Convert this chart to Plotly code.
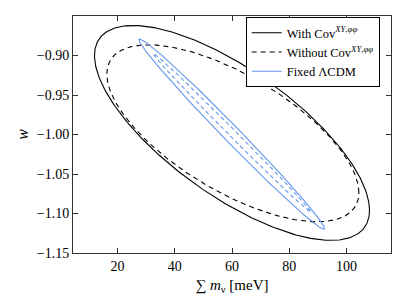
import numpy as np
import plotly.graph_objects as go

# Ellipse parameters: centre (x, y), half extents (x, y), correlation
names = ["With Cov<sup><i>XY</i>,<i>φφ</i></sup>", "Without Cov<sup><i>XY</i>,<i>φφ</i></sup>",
         "Fixed ΛCDM", "Fixed ΛCDM (no Cov)"]
cx = [60.0, 60.3, 59.9, 59.9]
cy = [-0.998, -0.9985, -0.9995, -0.9975]
sx = [48.0, 44.0, 32.4, 27.4]
sy = [0.136, 0.112, 0.1205, 0.100]
rho = [-0.72, -0.67, -0.9925, -0.998]
colors = ["black", "black", "#6495ED", "#6495ED"]
dashes = ["solid", "5px,4px", "solid", "4px,3px"]
show = [True, True, True, False]

xticks = [20, 40, 60, 80, 100]
yticks = [-1.15, -1.10, -1.05, -1.00, -0.95, -0.90]

t = np.linspace(0, 2 * np.pi, 400)
fig = go.Figure()
for i in range(len(names)):
    x = cx[i] + sx[i] * np.cos(t)
    y = cy[i] + sy[i] * (rho[i] * np.cos(t) + np.sqrt(1 - rho[i] ** 2) * np.sin(t))
    fig.add_trace(go.Scatter(x=x, y=y, mode="lines", name=names[i], showlegend=show[i],
                             line=dict(color=colors[i], width=1.1, dash=dashes[i])))

font = "'Liberation Serif', 'Times New Roman', serif"
axis_common = dict(showgrid=False, zeroline=False, showline=True, linecolor="#333", linewidth=1,
                   mirror="ticks", ticks="inside", ticklen=5, tickcolor="#333",
                   tickfont=dict(family=font, size=14, color="black"))
fig.update_layout(
    width=407, height=305,
    margin=dict(l=73, r=16, t=16, b=52),
    plot_bgcolor="white", paper_bgcolor="white",
    xaxis=dict(range=[4.5, 115.5], tickvals=xticks, **axis_common,
               title=dict(text="∑ <i>m</i><sub>ν</sub> [meV]", font=dict(family=font, size=15, color="black"),
                          standoff=6)),
    yaxis=dict(range=[-1.15, -0.85], tickvals=yticks, tickformat=".2f", **axis_common,
               title=dict(text="<i>w</i>", font=dict(family=font, size=16, color="black"), standoff=4)),
    legend=dict(x=0.543, y=0.995, xanchor="left", yanchor="top", bgcolor="white",
                bordercolor="black", borderwidth=1, font=dict(family=font, size=12.5, color="black"),
                tracegroupgap=0),
    showlegend=True,
)
fig.write_html("out.html", config={"displayModeBar": False},
               post_script="document.body.style.margin='0';document.body.style.padding='0';")
